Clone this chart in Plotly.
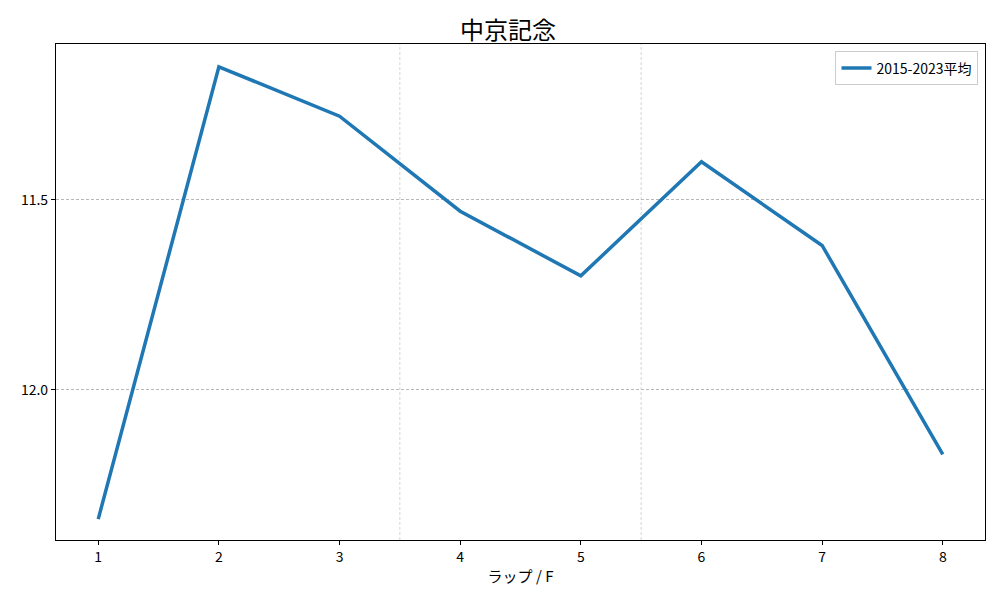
import plotly.graph_objects as go

laps = [1, 2, 3, 4, 5, 6, 7, 8]
avg_times = [12.34, 11.15, 11.28, 11.53, 11.70, 11.40, 11.62, 12.17]
series_name = "2015-2023平均"
section_bounds = [3.5, 5.5]
y_ticks = [11.5, 12.0]
y_tick_labels = ["11.5", "12.0"]

font = "Noto Sans CJK JP"
grid_color = "#b8b8b8"

fig = go.Figure()
fig.add_trace(go.Scatter(
    x=laps, y=avg_times, mode="lines", name=series_name,
    line=dict(color="#1f77b4", width=3.5),
))

for xb in section_bounds:
    fig.add_shape(type="line", xref="x", yref="paper", x0=xb, x1=xb, y0=0, y1=1,
                  line=dict(color=grid_color, width=0.6, dash="3px,2px"), layer="below")

fig.update_layout(
    width=1000, height=600,
    margin=dict(l=48, r=23, t=36, b=68, autoexpand=False),
    paper_bgcolor="white", plot_bgcolor="white",
    font=dict(family=font, size=14, color="black"),
    title=dict(text="中京記念", x=0.5, xanchor="center", yref="container", y=0.962,
               yanchor="middle", font=dict(size=24, family=font)),
    showlegend=True,
    legend=dict(x=0.993, y=0.985, xanchor="right", yanchor="top",
                bgcolor="rgba(255,255,255,0.8)", bordercolor="#cccccc", borderwidth=1,
                font=dict(size=14)),
)
fig.update_xaxes(
    range=[0.65, 8.35], tickmode="array", tickvals=laps, ticktext=[str(v) for v in laps],
    showgrid=False, zeroline=False, showline=True, linecolor="black", linewidth=1.2, mirror=True,
    ticks="outside", ticklen=4, tickcolor="black", automargin=False,
    title=dict(text="ラップ / F", font=dict(size=15), standoff=6),
)
fig.update_yaxes(
    range=[12.395, 11.09], tickmode="array", tickvals=y_ticks, ticktext=y_tick_labels,
    showgrid=True, gridcolor=grid_color, griddash="3px,2px", gridwidth=0.6,
    zeroline=False, showline=True, linecolor="black", linewidth=1.2, mirror=True,
    ticks="outside", ticklen=4, tickcolor="black", automargin=False,
)

fig.write_html("out.html")
